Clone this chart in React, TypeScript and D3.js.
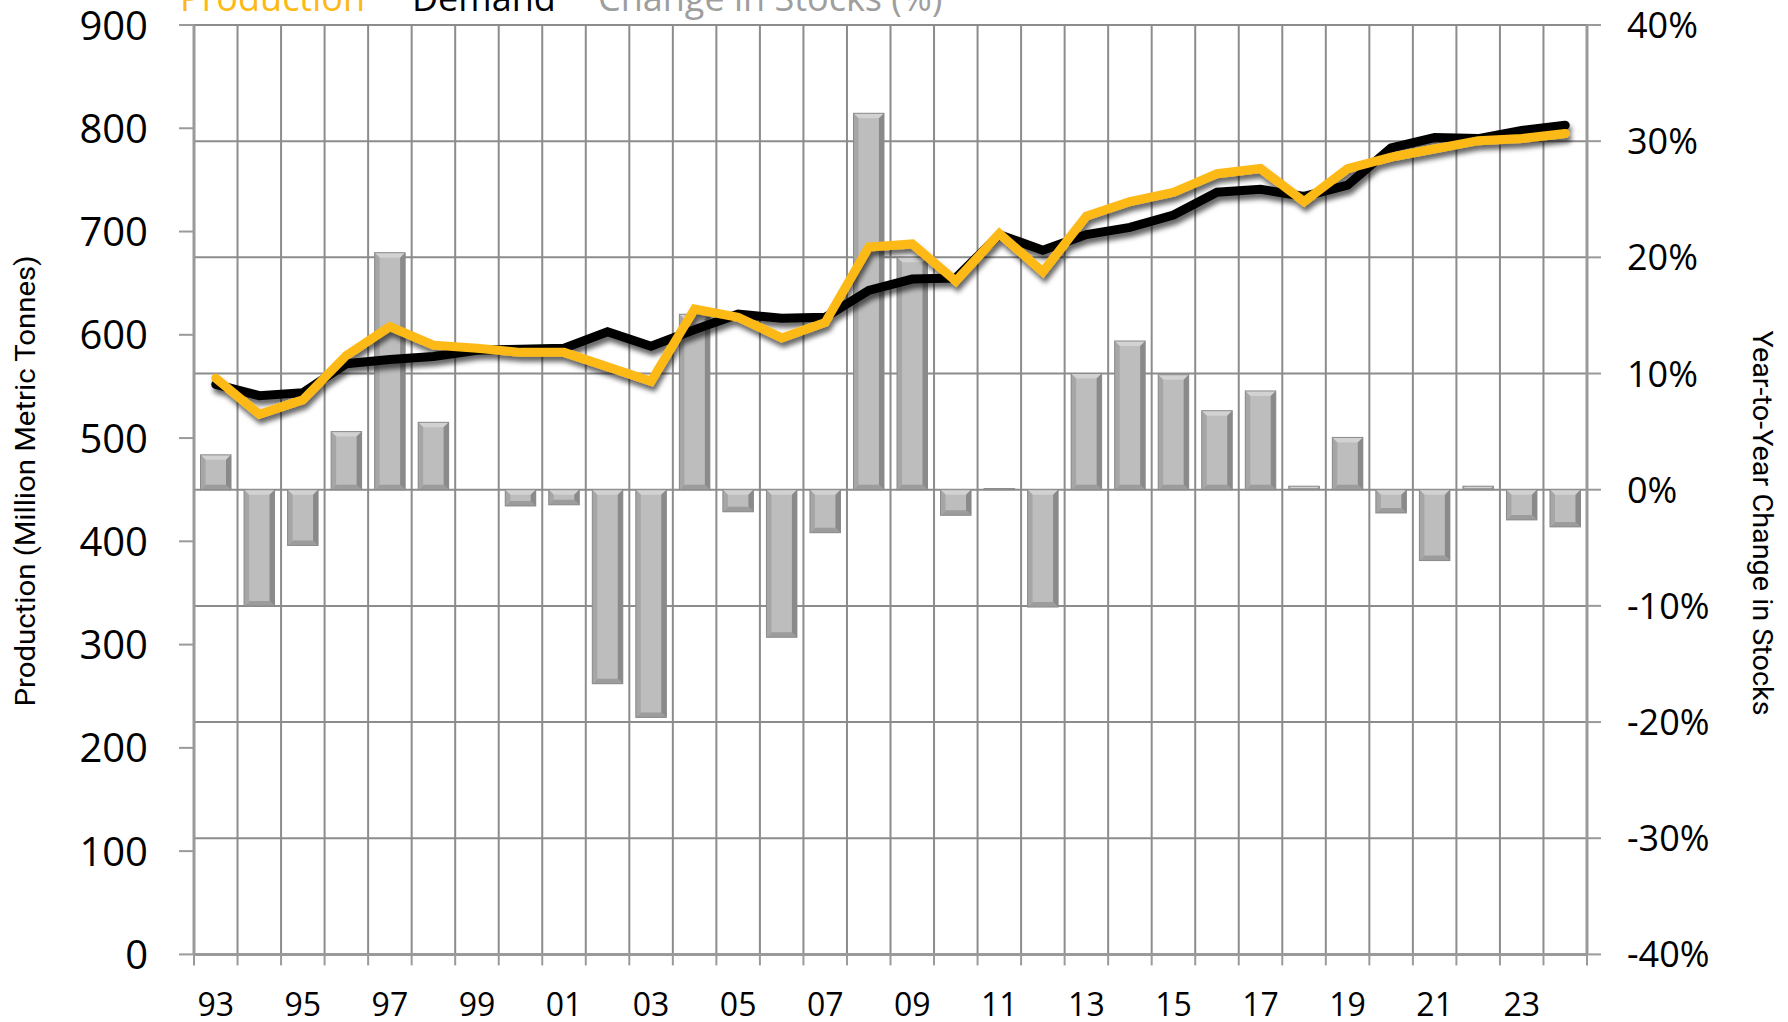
import React from "react";
import * as d3 from "d3";

const years = ["93","94","95","96","97","98","99","00","01","02","03","04","05","06","07","08","09","10","11","12","13","14","15","16","17","18","19","20","21","22","23","24"];
const demand = [552,541,544,572,576,579,585,586,587,603,589,605,620,616,617,643,654,655,697,682,697,704,716,738,741,734,745,781,791,790,798,803];
const production = [558,523,537,580,608,590,587,583,583,569,555,625,617,597,612,685,688,652,698,661,715,729,738,756,761,729,761,772,780,788,790,795];
const stockChange = [3.0,-10.0,-4.8,5.0,20.4,5.8,0,-1.4,-1.3,-16.7,-19.6,15.1,-1.9,-12.7,-3.7,32.4,20.0,-2.2,0.1,-10.1,10.0,12.8,9.9,6.8,8.5,0.3,4.5,-2.0,-6.1,0.3,-2.6,-3.2];
const leftTicks = [0,100,200,300,400,500,600,700,800,900];
const rightTicks = [-40,-30,-20,-10,0,10,20,30,40];
const legendItems = ["Production","Demand","Change in Stocks (%)"];

const W = 1788, H = 1022;
const L = 194, R = 1587, T = 25, B = 954.4;
const GOLD = "#FDB913";
const GRID = "#8c8c8c";
const AX = "#9a9a9a";
const NUM_FONT = "'Open Sans', 'DejaVu Sans', sans-serif";
const NARROW = "'Liberation Sans Narrow', 'Roboto', sans-serif";

function Bar({ x0, y0, w, h }: { x0: number; y0: number; w: number; h: number }) {
  if (h <= 0.2) return null;
  const b = Math.min(5, h / 2);
  const x1 = x0 + w, y1 = y0 + h;
  const p = (pts: number[][]) => pts.map((q) => q.join(",")).join(" ");
  return (
    <g>
      <rect x={x0} y={y0} width={w} height={h} fill="#bdbdbd" />
      <polygon points={p([[x0, y0], [x1, y0], [x1 - b, y0 + b], [x0 + b, y0 + b]])} fill="#d2d2d2" />
      <polygon points={p([[x0, y1], [x1, y1], [x1 - b, y1 - b], [x0 + b, y1 - b]])} fill="#9c9c9c" />
      <polygon points={p([[x0, y0], [x0 + b, y0 + b], [x0 + b, y1 - b], [x0, y1]])} fill="#a6a6a6" />
      <polygon points={p([[x1, y0], [x1 - b, y0 + b], [x1 - b, y1 - b], [x1, y1]])} fill="#8a8a8a" />
      <rect x={x0} y={y0} width={w} height={h} fill="none" stroke="#8a8a8a" strokeWidth={1} />
    </g>
  );
}

export default function App() {
  const x = d3.scaleBand<string>().domain(years).range([L, R]).padding(0);
  const bw = x.bandwidth();
  const cx = (i: number) => (x(years[i]) as number) + bw / 2;
  const yL = d3.scaleLinear().domain([0, 900]).range([B, T]);
  const yR = d3.scaleLinear().domain([-40, 40]).range([B, T]);

  const line = d3
    .line<number>()
    .x((_, i) => cx(i))
    .y((d) => yL(d));

  const barW = bw * 0.7;
  const legendX = [180, 412, 598];
  const legendColors = [GOLD, "#000000", "#9e9e9e"];

  return (
    <svg
      width={W}
      height={H}
      viewBox={`0 0 ${W} ${H}`}
      style={{ position: "absolute", left: 0, top: 0, background: "#fff" }}
    >
      <defs>
        <filter id="shadow" x="-10%" y="-10%" width="120%" height="130%">
          <feDropShadow dx="2" dy="5" stdDeviation="2.5" floodColor="#000" floodOpacity="0.6" />
        </filter>
      </defs>
      <rect x={0} y={0} width={W} height={H} fill="#fff" />

      {/* legend (clipped at top, as in the reference) */}
      {legendItems.map((t, i) => (
        <text key={t} x={legendX[i]} y={11} fontFamily={NUM_FONT} fontSize={36} fill={legendColors[i]}>
          {t}
        </text>
      ))}

      {/* horizontal gridlines on right-axis ticks */}
      {rightTicks.map((v) => (
        <line key={"h" + v} x1={L} x2={R} y1={yR(v)} y2={yR(v)} stroke={GRID} strokeWidth={2} />
      ))}
      {/* vertical gridlines at category boundaries */}
      {years.slice(1).map((yv) => (
        <line key={"v" + yv} x1={x(yv) as number} x2={x(yv) as number} y1={T} y2={B} stroke={GRID} strokeWidth={2} />
      ))}

      {/* bars */}
      {stockChange.map((v, i) => {
        const y0 = Math.min(yR(v), yR(0));
        const h = Math.abs(yR(v) - yR(0));
        return <Bar key={"b" + i} x0={cx(i) - barW / 2} y0={y0} w={barW} h={h} />;
      })}

      {/* axes */}
      <line x1={L} x2={L} y1={T} y2={B} stroke={AX} strokeWidth={3} />
      <line x1={R} x2={R} y1={T} y2={B} stroke={AX} strokeWidth={3} />
      <line x1={L} x2={R} y1={B} y2={B} stroke={AX} strokeWidth={3} />
      {leftTicks.map((v) => (
        <g key={"lt" + v}>
          <line x1={L - 15} x2={L} y1={yL(v)} y2={yL(v)} stroke={AX} strokeWidth={2} />
          <text x={148} y={yL(v) + 14.5} textAnchor="end" fontFamily={NUM_FONT} fontSize={40} fill="#000">
            {v}
          </text>
        </g>
      ))}
      {rightTicks.map((v) => (
        <g key={"rt" + v}>
          <line x1={R} x2={R + 14} y1={yR(v)} y2={yR(v)} stroke={AX} strokeWidth={2} />
          <text x={1627} y={yR(v) + 13} textAnchor="start" fontFamily={NUM_FONT} fontSize={36} fill="#000">
            {v + "%"}
          </text>
        </g>
      ))}
      {years.map((yv) => (
        <line key={"bt" + yv} x1={x(yv) as number} x2={x(yv) as number} y1={B} y2={B + 11} stroke={AX} strokeWidth={2} />
      ))}
      <line x1={R} x2={R} y1={B} y2={B + 11} stroke={AX} strokeWidth={2} />
      {years.map((yv, i) =>
        i % 2 === 0 ? (
          <text key={"xl" + yv} x={cx(i)} y={1016} textAnchor="middle" fontFamily={NUM_FONT} fontSize={32} fill="#000">
            {yv}
          </text>
        ) : null
      )}

      {/* axis titles */}
      <text
        transform={`translate(35, 481) rotate(-90)`}
        textAnchor="middle"
        fontFamily={NARROW}
        fontSize={27}
        textLength={451}
        lengthAdjust="spacingAndGlyphs"
        fill="#000"
      >
        Production (Million Metric Tonnes)
      </text>
      <text
        transform={`translate(1753, 523) rotate(90)`}
        textAnchor="middle"
        fontFamily={NARROW}
        fontSize={27}
        textLength={385}
        lengthAdjust="spacingAndGlyphs"
        fill="#000"
      >
        Year-to-Year Change in Stocks
      </text>

      {/* lines */}
      <g filter="url(#shadow)">
        <path d={line(demand) as string} fill="none" stroke="#000" strokeWidth={9} strokeLinejoin="miter" strokeLinecap="round" />
        <path d={line(production) as string} fill="none" stroke={GOLD} strokeWidth={9} strokeLinejoin="miter" strokeLinecap="round" />
      </g>
    </svg>
  );
}
